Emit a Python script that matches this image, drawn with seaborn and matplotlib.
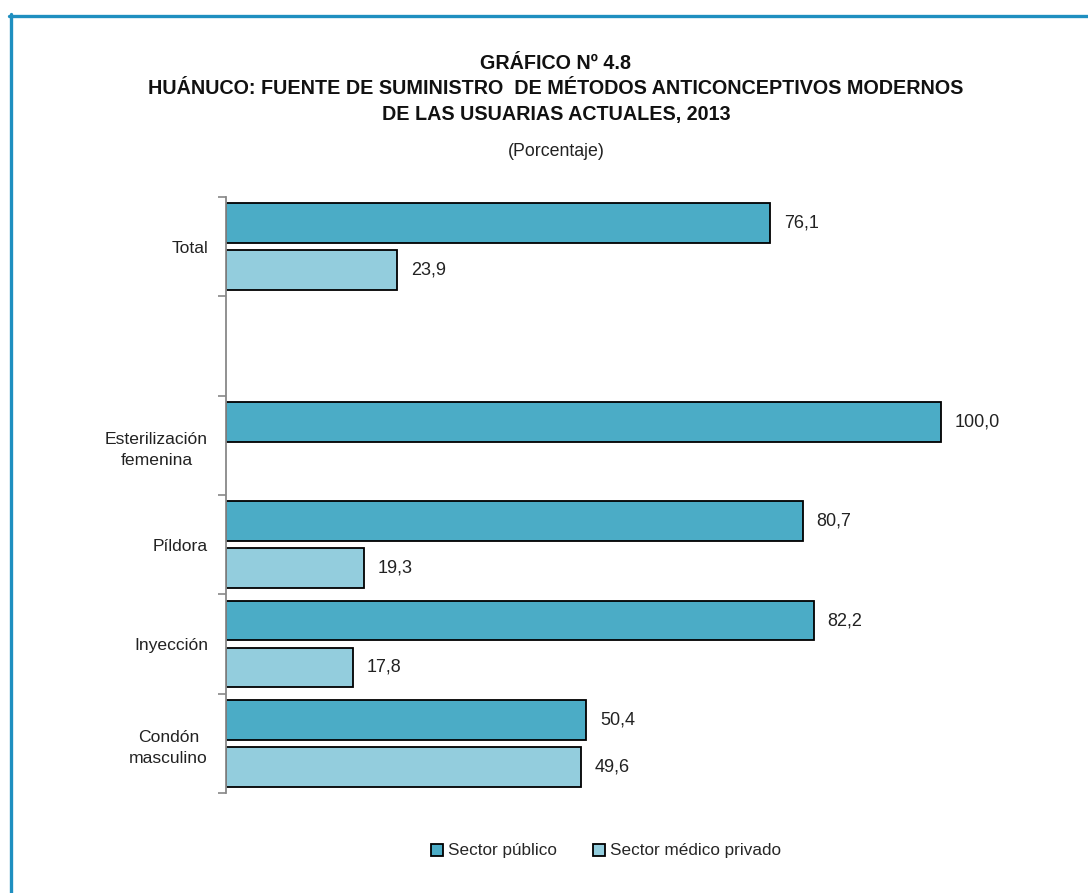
import numpy as np
import pandas as pd
import matplotlib
matplotlib.use("Agg")
import matplotlib.pyplot as plt
from matplotlib.lines import Line2D
from matplotlib.patches import Patch
import seaborn as sns

# data
categories = ["Total", " ", "Esterilización\nfemenina", "Píldora", "Inyección", "Condón\nmasculino"]
publico = [76.1, np.nan, 100.0, 80.7, 82.2, 50.4]
privado = [23.9, np.nan, np.nan, 19.3, 17.8, 49.6]
sectors = ["Sector público", "Sector médico privado"]
colors = ["#4BACC6", "#93CDDD"]

title = ("GRÁFICO Nº 4.8\n"
         "HUÁNUCO: FUENTE DE SUMINISTRO  DE MÉTODOS ANTICONCEPTIVOS MODERNOS\n"
         "DE LAS USUARIAS ACTUALES, 2013")
subtitle = "(Porcentaje)"

df = pd.DataFrame({
    "categoria": categories * 2,
    "sector": [sectors[0]] * len(categories) + [sectors[1]] * len(categories),
    "valor": publico + privado,
})

sns.set_style("white")
plt.rcParams["font.family"] = ["Liberation Sans", "DejaVu Sans"]

fig = plt.figure(figsize=(10.88, 8.93), dpi=100)
ax = fig.add_axes([226 / 1088, 1 - 793 / 893, 0.7555, 596 / 893])

sns.barplot(data=df, y="categoria", x="valor", hue="sector", order=categories,
            hue_order=sectors, palette=colors, saturation=1, orient="h",
            width=0.945, gap=0.15, edgecolor="black", linewidth=1.3, ax=ax,
            legend=False)

for cont in ax.containers:
    labels = []
    for bar in cont:
        w = bar.get_width()
        labels.append("" if np.isnan(w) or w == 0 else f"{w:.1f}".replace(".", ","))
    ax.bar_label(cont, labels=labels, padding=10, fontsize=13, color="#222222")

ax.set_xlim(0, 115)
ax.set_ylim(len(categories) - 0.5, -0.5)
ax.set_xlabel("")
ax.set_ylabel("")
ax.set_xticks([])
ax.set_yticks(range(len(categories)))
ax.set_yticklabels(categories, fontsize=12.6, color="#222222")
ax.set_yticks(np.arange(-0.5, len(categories), 1), minor=True)
ax.tick_params(axis="y", which="major", length=0, pad=13)
ax.tick_params(axis="y", which="minor", length=6, width=1.2, color="#888888", left=True)
for s in ["top", "right", "bottom"]:
    ax.spines[s].set_visible(False)
ax.spines["left"].set_color("#888888")
ax.spines["left"].set_linewidth(1.3)
for lab in ax.get_yticklabels():
    lab.set_horizontalalignment("right")
    lab.set_multialignment("center")
    lab.set_linespacing(1.55)

fig.text(556 / 1088, 1 - 89 / 893, title, ha="center", va="center", fontsize=14.2,
         fontweight="bold", linespacing=1.45, color="#111111")
fig.text(556 / 1088, 1 - 152 / 893, subtitle, ha="center", va="center", fontsize=12.8,
         color="#222222")

handles = [Patch(facecolor=c, edgecolor="black", linewidth=1.3) for c in colors]
fig.legend(handles, sectors, loc="center", bbox_to_anchor=(606 / 1088, 1 - 851 / 893),
           ncol=2, frameon=False, fontsize=12.3, handlelength=0.7, handleheight=0.7,
           handletextpad=0.3, columnspacing=2.1)

# blue frame lines (top and left)
fig.add_artist(Line2D([9 / 1088, 1], [1 - 15.5 / 893, 1 - 15.5 / 893],
                      transform=fig.transFigure, color="#1F8FC0", linewidth=2.4))
fig.add_artist(Line2D([10.5 / 1088, 10.5 / 1088], [0, 1 - 14 / 893],
                      transform=fig.transFigure, color="#1F8FC0", linewidth=2.4))

fig.savefig("out.png", dpi=100)
